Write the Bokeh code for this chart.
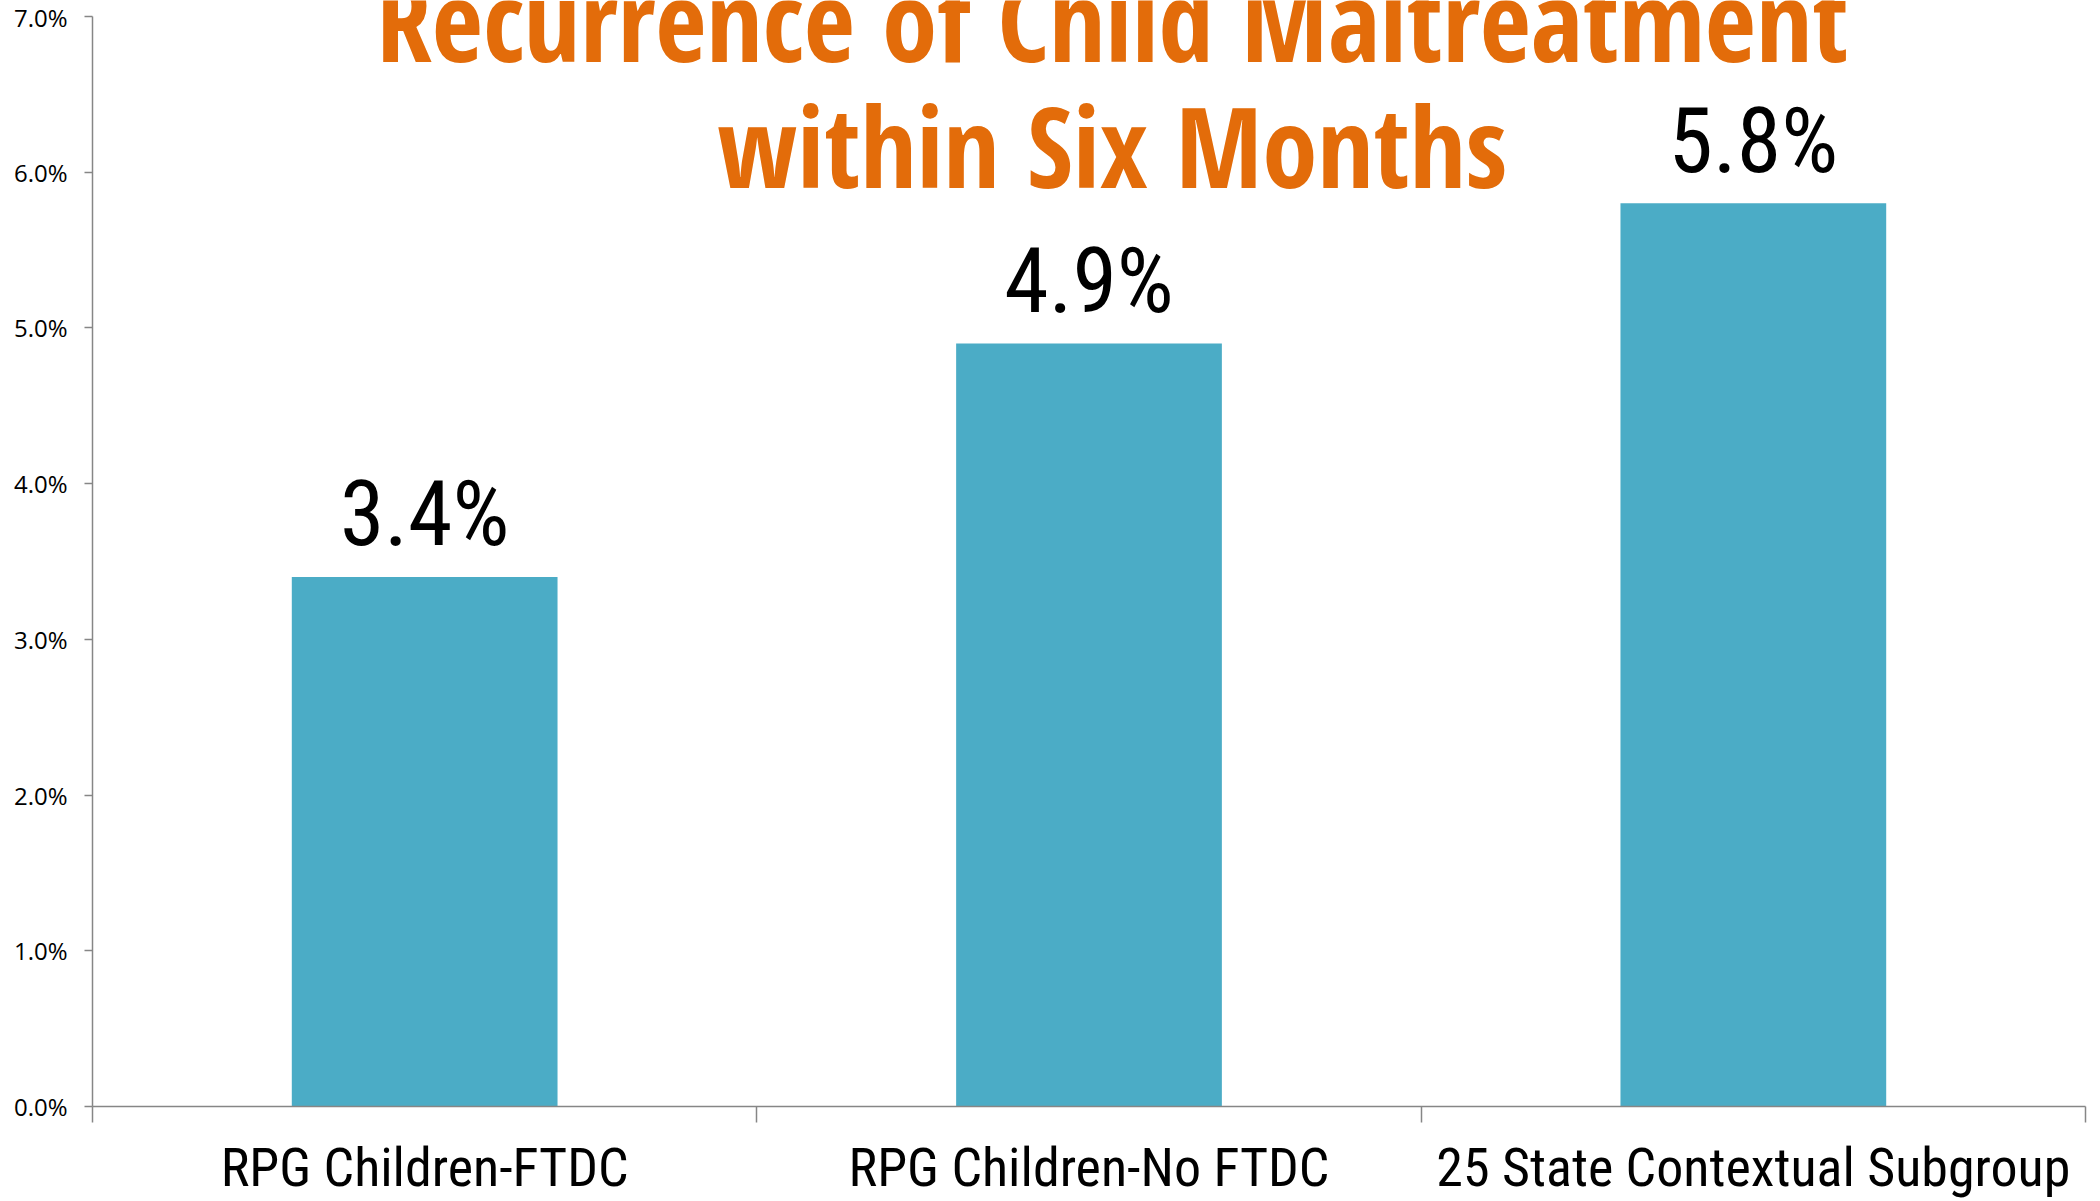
from bokeh.plotting import figure
from bokeh.models import Range1d, FixedTicker, NumeralTickFormatter, Label, ColumnDataSource
from bokeh.core.properties import value
from bokeh.embed import file_html
from bokeh.resources import INLINE

categories = ["RPG Children-FTDC", "RPG Children-No FTDC", "25 State Contextual Subgroup"]
rates = [0.034, 0.049, 0.058]
value_labels = ["3.4%", "4.9%", "5.8%"]
y_ticks = [0.0, 0.01, 0.02, 0.03, 0.04, 0.05, 0.06, 0.07]
title_lines = ["Recurrence of Child Maltreatment", "within Six Months"]

n = len(categories)
centers = [i + 0.5 for i in range(n)]
bounds = [float(i) for i in range(n + 1)]
LABEL_GAP = 0.004   # data units between bar top and label anchor

src = ColumnDataSource(dict(x=centers, top=rates, label=value_labels,
                            ly=[r + LABEL_GAP for r in rates]))

p = figure(width=2100, height=1201, output_backend="svg", toolbar_location=None,
           x_range=Range1d(0, n), y_range=Range1d(0, 0.071028),
           min_border_left=92, min_border_right=15, min_border_top=0, min_border_bottom=95)
p.outline_line_color = None
p.grid.grid_line_color = None

p.vbar(x="x", top="top", width=0.4, bottom=0, source=src, fill_color="#4BACC6", line_color=None)
p.text(x="x", y="ly", text="label", source=src, text_align="center", text_baseline="alphabetic",
       text_font=value("Roboto Condensed"), text_font_size="90px", text_color="black")

# y axis
ya = p.yaxis[0]
ya.ticker = FixedTicker(ticks=y_ticks)
ya.formatter = NumeralTickFormatter(format="0.0%")
ya.axis_line_color = "#868686"
ya.axis_line_width = 1.5
ya.major_tick_line_color = "#868686"
ya.major_tick_line_width = 1.5
ya.major_tick_out = 8
ya.major_tick_in = 0
ya.minor_tick_line_color = None
ya.major_label_standoff = 17
ya.major_label_text_font = "Open Sans"
ya.major_label_text_font_size = "24px"
ya.major_label_text_color = "black"
ya.bounds = (0, 0.07)

# x axis: boundary ticks as minor ticks, category names at centres
xa = p.xaxis[0]
xa.ticker = FixedTicker(ticks=centers, minor_ticks=bounds)
xa.major_label_overrides = {c: cat for c, cat in zip(centers, categories)}
xa.axis_line_color = "#868686"
xa.axis_line_width = 1.5
xa.major_tick_line_color = None
xa.major_tick_out = 0
xa.major_tick_in = 0
xa.minor_tick_line_color = "#868686"
xa.minor_tick_line_width = 1.5
xa.minor_tick_out = 16
xa.minor_tick_in = 0
xa.major_label_standoff = 13
xa.major_label_text_font = "Roboto Condensed"
xa.major_label_text_font_size = "54px"
xa.major_label_text_color = "black"

for line, yv in zip(title_lines, [0.06987, 0.06172]):
    p.add_layout(Label(x=1.535, y=yv, text=line, text_align="center", text_baseline="alphabetic",
                       text_font="Open Sans Condensed", text_font_style="bold",
                       text_font_size="111px", text_color="#E36C0A"))

open("out.html", "w").write(file_html(p, INLINE))
